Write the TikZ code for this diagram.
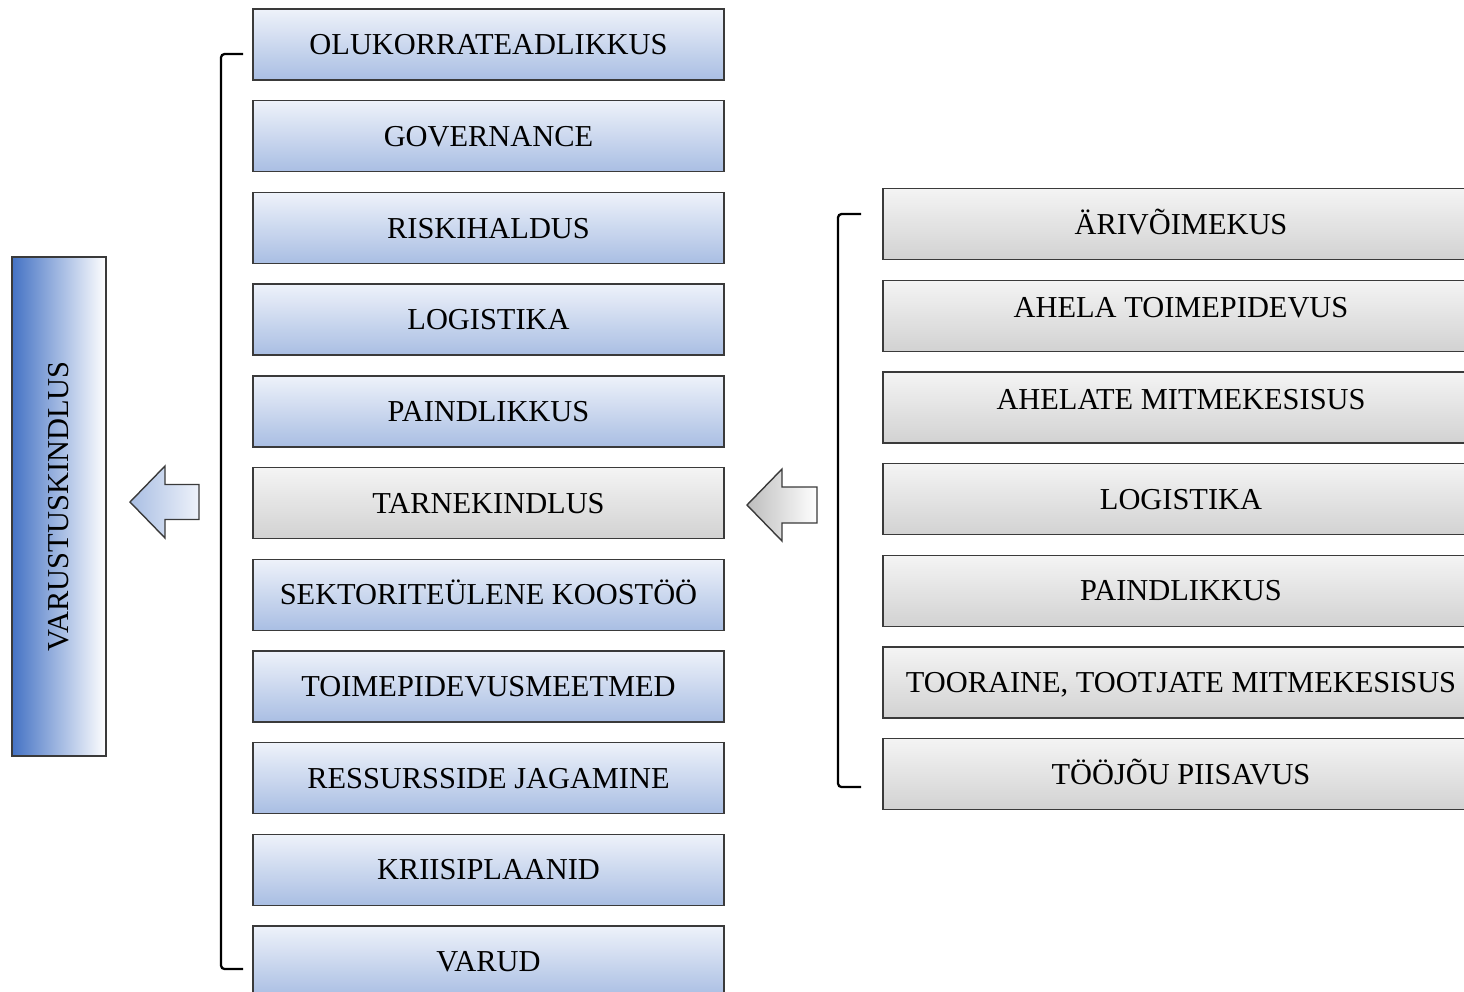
\documentclass[tikz,border=0pt]{standalone}
\usepackage{fontspec}
\setmainfont{Liberation Serif}
\usetikzlibrary{positioning}
\definecolor{bluetop}{HTML}{EEF2FA}
\definecolor{bluebot}{HTML}{A9BEE3}
\definecolor{bluedark}{HTML}{4472C4}
\definecolor{graytop}{HTML}{F4F4F4}
\definecolor{graybot}{HTML}{D2D2D2}
\definecolor{edge}{HTML}{3A3A3A}
\begin{document}
\begin{tikzpicture}

          % Definitions
          \tikzstyle{bluebox} = [rectangle, minimum width=9.42cm, minimum height=1.42cm, text height=11.5pt, text depth=0pt, inner sep=0pt, text centered, draw=edge, line width=0.8pt, top color=bluetop, bottom color=bluebot, font=\fontsize{17.3}{20}\selectfont]
          \tikzstyle{graybox} = [bluebox, top color=graytop, bottom color=graybot]
          \tikzstyle{factor} = [graybox, minimum width=11.92cm]
          \tikzstyle{raised} = [text depth=9pt]
          \tikzstyle{mainbox} = [rectangle, minimum width=1.88cm, minimum height=9.98cm, inner sep=0pt, draw=edge, line width=0.8pt, left color=bluedark, right color=white, font=\fontsize{17.3}{20}\selectfont]
          \tikzstyle{bluearrow} = [draw=edge, line width=0.8pt, left color=bluebot, right color=bluetop]
          \tikzstyle{grayarrow} = [draw=edge, line width=0.8pt, left color=graybot!90!black, right color=white]
          \tikzstyle{bracket} = [line width=1.3pt, rounded corners=2pt]

          \useasboundingbox (0,0) rectangle (29.28,-19.82);

          % main result
          \node (varustus) [mainbox] at (1.18,-10.13) {\rotatebox{90}{VARUSTUSKINDLUS}};

          % left column
          \begin{scope}[node distance=1.834cm]
          \node (olukord) [bluebox] at (9.77,-0.89) {OLUKORRATEADLIKKUS};
          \node (governance) [bluebox, below of=olukord] {GOVERNANCE};
          \node (risk) [bluebox, below of=governance] {RISKIHALDUS};
          \node (logistika) [bluebox, below of=risk] {LOGISTIKA};
          \node (paind) [bluebox, below of=logistika] {PAINDLIKKUS};
          \node (tarne) [graybox, below of=paind] {TARNEKINDLUS};
          \node (koostoo) [bluebox, below of=tarne] {SEKTORITEÜLENE KOOSTÖÖ};
          \node (meetmed) [bluebox, below of=koostoo] {TOIMEPIDEVUSMEETMED};
          \node (ressurss) [bluebox, below of=meetmed] {RESSURSSIDE JAGAMINE};
          \node (kriis) [bluebox, below of=ressurss] {KRIISIPLAANID};
          \node (varud) [bluebox, below of=kriis] {VARUD};

          % right column
          \node (ari) [factor] at (23.62,-4.48) {ÄRIVÕIMEKUS};
          \node (ahel) [factor, raised, below of=ari] {AHELA TOIMEPIDEVUS};
          \node (ahelad) [factor, raised, below of=ahel] {AHELATE MITMEKESISUS};
          \node (rlogistika) [factor, below of=ahelad] {LOGISTIKA};
          \node (rpaind) [factor, below of=rlogistika] {PAINDLIKKUS};
          \node (tooraine) [factor, below of=rpaind] {TOORAINE, TOOTJATE MITMEKESISUS};
          \node (toojoud) [factor, below of=tooraine] {TÖÖJÕU PIISAVUS};
          \end{scope}

          % block arrows
          \coordinate (larrow) at (2.60,-10.04);
          \coordinate (rarrow) at (14.94,-10.10);
          \draw [bluearrow] (larrow) -- ++(0.70,0.72) -- ++(0,-0.37) -- ++(0.68,0) -- ++(0,-0.70) -- ++(-0.68,0) -- ++(0,-0.37) -- cycle;
          \draw [grayarrow] (rarrow) -- ++(0.70,0.72) -- ++(0,-0.36) -- ++(0.70,0) -- ++(0,-0.72) -- ++(-0.70,0) -- ++(0,-0.36) -- cycle;

          % brackets
          \coordinate (lbtop) at (4.86,-1.08);
          \coordinate (lbbot) at (4.86,-19.38);
          \coordinate (rbtop) at (17.22,-4.28);
          \coordinate (rbbot) at (17.22,-15.74);
          \draw [bracket] (lbtop) -- ++(-0.44,0) |- (lbbot);
          \draw [bracket] (rbtop) -- ++(-0.46,0) |- (rbbot);

        \end{tikzpicture}
\end{document}
